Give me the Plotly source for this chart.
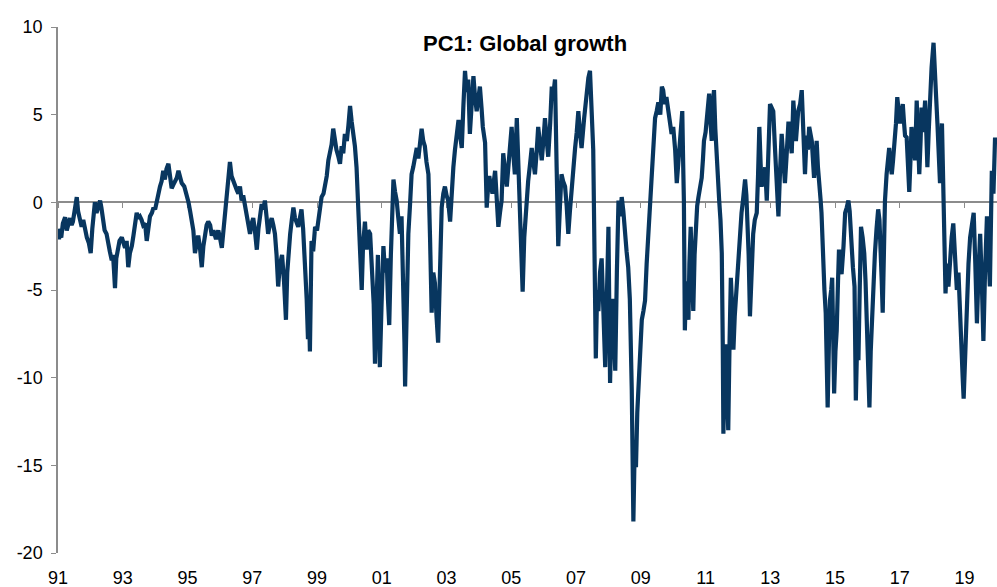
import plotly.graph_objects as go

# Dates as decimal years and PC1 values (rows = calendar years)
years = [
    1991.00, 1991.03, 1991.06, 1991.10, 1991.15, 1991.22, 1991.27, 1991.32, 1991.37, 1991.42, 1991.46, 1991.52, 1991.58, 1991.62, 1991.67, 1991.73, 1991.78, 1991.84, 1991.89, 1991.95,
    1992.01, 1992.06, 1992.10, 1992.14, 1992.19, 1992.24, 1992.30, 1992.34, 1992.39, 1992.44, 1992.50, 1992.55, 1992.60, 1992.66, 1992.70, 1992.73, 1992.76, 1992.80, 1992.85, 1992.90, 1992.97,
    1993.02, 1993.07, 1993.12, 1993.17, 1993.22, 1993.28, 1993.33, 1993.38, 1993.43, 1993.48, 1993.53, 1993.58, 1993.63, 1993.69, 1993.74, 1993.79, 1993.84, 1993.90, 1993.95,
    1994.00, 1994.05, 1994.10, 1994.15, 1994.20, 1994.25, 1994.30, 1994.35, 1994.41, 1994.46, 1994.51, 1994.56, 1994.62, 1994.67, 1994.72, 1994.77, 1994.82, 1994.90, 1994.97,
    1995.03, 1995.08, 1995.13, 1995.18, 1995.23, 1995.28, 1995.33, 1995.38, 1995.44, 1995.49, 1995.54, 1995.59, 1995.64, 1995.70, 1995.75, 1995.80, 1995.88, 1995.95,
    1996.00, 1996.06, 1996.11, 1996.16, 1996.21, 1996.26, 1996.31, 1996.36, 1996.41, 1996.46, 1996.52, 1996.57, 1996.62, 1996.67, 1996.72, 1996.78, 1996.83, 1996.88, 1996.93, 1996.98,
    1997.03, 1997.08, 1997.14, 1997.19, 1997.24, 1997.29, 1997.34, 1997.39, 1997.44, 1997.49, 1997.55, 1997.60, 1997.65, 1997.70, 1997.75, 1997.80, 1997.85, 1997.92, 1997.98,
    1998.04, 1998.08, 1998.12, 1998.17, 1998.22, 1998.27, 1998.32, 1998.37, 1998.42, 1998.47, 1998.52, 1998.57, 1998.63, 1998.68, 1998.72, 1998.75, 1998.78, 1998.80, 1998.83, 1998.88, 1998.94,
    1999.00, 1999.05, 1999.09, 1999.14, 1999.20, 1999.25, 1999.30, 1999.35, 1999.40, 1999.45, 1999.50, 1999.55, 1999.60, 1999.66, 1999.71, 1999.76, 1999.81, 1999.86, 1999.92, 1999.97,
    2000.02, 2000.07, 2000.12, 2000.17, 2000.22, 2000.26, 2000.30, 2000.34, 2000.38, 2000.42, 2000.48, 2000.53, 2000.58, 2000.64, 2000.70, 2000.75, 2000.79, 2000.83, 2000.88, 2000.91, 2000.94, 2000.99,
    2001.05, 2001.10, 2001.15, 2001.19, 2001.23, 2001.28, 2001.32, 2001.36, 2001.41, 2001.46, 2001.51, 2001.56, 2001.61, 2001.66, 2001.70, 2001.72, 2001.76, 2001.79, 2001.82, 2001.87, 2001.92, 2001.97,
    2002.03, 2002.08, 2002.13, 2002.18, 2002.23, 2002.28, 2002.33, 2002.38, 2002.44, 2002.49, 2002.54, 2002.59, 2002.64, 2002.69, 2002.74, 2002.79, 2002.85, 2002.90, 2002.95,
    2003.00, 2003.05, 2003.11, 2003.16, 2003.21, 2003.26, 2003.31, 2003.37, 2003.42, 2003.47, 2003.52, 2003.57, 2003.62, 2003.67, 2003.72, 2003.77, 2003.83, 2003.88, 2003.93, 2003.98,
    2004.03, 2004.08, 2004.12, 2004.19, 2004.24, 2004.28, 2004.32, 2004.37, 2004.42, 2004.46, 2004.50, 2004.55, 2004.60, 2004.65, 2004.70, 2004.75, 2004.80, 2004.86, 2004.93,
    2005.01, 2005.06, 2005.11, 2005.17, 2005.22, 2005.27, 2005.31, 2005.35, 2005.40, 2005.47, 2005.52, 2005.58, 2005.63, 2005.68, 2005.73, 2005.78, 2005.83, 2005.89, 2005.94, 2005.99,
    2006.04, 2006.09, 2006.14, 2006.20, 2006.25, 2006.30, 2006.35, 2006.40, 2006.45, 2006.50, 2006.55, 2006.60, 2006.66, 2006.71, 2006.76, 2006.81, 2006.86, 2006.92, 2006.97,
    2007.02, 2007.07, 2007.12, 2007.17, 2007.25, 2007.33, 2007.38, 2007.43, 2007.48, 2007.53, 2007.57, 2007.61, 2007.65, 2007.69, 2007.74, 2007.79, 2007.84, 2007.90, 2007.95,
    2008.00, 2008.02, 2008.05, 2008.09, 2008.13, 2008.17, 2008.21, 2008.26, 2008.31, 2008.36, 2008.41, 2008.46, 2008.51, 2008.56, 2008.61, 2008.66, 2008.72, 2008.75, 2008.77, 2008.81, 2008.85, 2008.89, 2008.92, 2008.97,
    2009.03, 2009.08, 2009.13, 2009.18, 2009.23, 2009.28, 2009.34, 2009.39, 2009.44, 2009.49, 2009.54, 2009.60, 2009.65, 2009.69, 2009.74, 2009.79, 2009.85, 2009.90, 2009.95,
    2010.00, 2010.06, 2010.11, 2010.16, 2010.21, 2010.24, 2010.28, 2010.31, 2010.33, 2010.36, 2010.40, 2010.44, 2010.47, 2010.50, 2010.54, 2010.58, 2010.62, 2010.66, 2010.70, 2010.74, 2010.78, 2010.83, 2010.88, 2010.92, 2010.95,
    2011.00, 2011.03, 2011.07, 2011.11, 2011.15, 2011.19, 2011.22, 2011.26, 2011.30, 2011.34, 2011.38, 2011.42, 2011.46, 2011.50, 2011.53, 2011.55, 2011.59, 2011.63, 2011.66, 2011.70, 2011.74, 2011.78, 2011.82, 2011.86, 2011.90, 2011.94, 2011.98,
    2012.01, 2012.06, 2012.11, 2012.16, 2012.22, 2012.26, 2012.29, 2012.33, 2012.37, 2012.42, 2012.47, 2012.52, 2012.58, 2012.62, 2012.66, 2012.70, 2012.73, 2012.79, 2012.84, 2012.89, 2012.94, 2012.99,
    2013.04, 2013.09, 2013.14, 2013.18, 2013.22, 2013.25, 2013.30, 2013.35, 2013.40, 2013.45, 2013.50, 2013.56, 2013.61, 2013.66, 2013.71, 2013.75, 2013.79, 2013.86, 2013.92, 2013.97,
    2014.02, 2014.07, 2014.12, 2014.16, 2014.20, 2014.24, 2014.28, 2014.35, 2014.39, 2014.43, 2014.47, 2014.51, 2014.55, 2014.58, 2014.63, 2014.67, 2014.71, 2014.74, 2014.77, 2014.81, 2014.84, 2014.88, 2014.91, 2014.94, 2014.97,
    2015.01, 2015.05, 2015.09, 2015.12, 2015.16, 2015.20, 2015.26, 2015.31, 2015.36, 2015.41, 2015.45, 2015.48, 2015.52, 2015.55, 2015.60, 2015.64, 2015.68, 2015.72, 2015.76, 2015.80, 2015.85, 2015.90, 2015.94, 2015.98,
    2016.02, 2016.06, 2016.10, 2016.13, 2016.18, 2016.23, 2016.28, 2016.33, 2016.37, 2016.41, 2016.44, 2016.47, 2016.51, 2016.54, 2016.59, 2016.63, 2016.67, 2016.71, 2016.75, 2016.79, 2016.83, 2016.88, 2016.92, 2016.96,
    2017.00, 2017.04, 2017.09, 2017.13, 2017.16, 2017.21, 2017.25, 2017.29, 2017.33, 2017.36, 2017.41, 2017.47, 2017.52, 2017.56, 2017.60, 2017.64, 2017.67, 2017.72, 2017.78, 2017.82, 2017.85, 2017.89, 2017.93, 2017.98,
    2018.04, 2018.08, 2018.12, 2018.16, 2018.19, 2018.24, 2018.30, 2018.33, 2018.36, 2018.38, 2018.41, 2018.45, 2018.50, 2018.55, 2018.60, 2018.65, 2018.70, 2018.76, 2018.81, 2018.86, 2018.91, 2018.94, 2018.97,
    2019.02, 2019.07, 2019.12, 2019.17, 2019.22, 2019.28, 2019.33, 2019.38, 2019.43, 2019.48, 2019.53, 2019.58, 2019.63, 2019.69, 2019.73, 2019.78, 2019.81, 2019.84, 2019.89, 2019.94,
]
pc1 = [
    -1.5, -2.1, -1.8, -2.0, -1.2, -0.85, -1.6, -1.1, -0.9, -1.3, -1.1, -0.4, 0.3, -0.5, -0.9, -1.4, -1.0, -1.7, -2.0, -2.3,
    -2.9, -1.5, -0.7, 0.0, -0.6, -0.2, 0.1, -0.3, -0.8, -1.6, -1.8, -2.4, -2.8, -3.3, -3.0, -3.9, -4.9, -3.2, -2.5, -2.2, -2.0,
    -2.3, -2.6, -2.2, -3.7, -2.9, -2.5, -1.9, -1.2, -0.6, -0.9, -0.8, -1.0, -1.3, -1.2, -2.2, -1.5, -0.8, -0.6, -0.3,
    -0.4, 0.1, 0.5, 0.9, 1.2, 1.8, 1.3, 1.9, 2.2, 1.6, 0.8, 1.0, 1.2, 1.4, 1.8, 1.3, 1.1, 0.9, 0.5,
    0.0, -0.5, -1.0, -1.6, -2.9, -2.2, -1.9, -2.5, -3.7, -2.5, -1.8, -1.3, -1.1, -1.3, -1.9, -1.6, -2.1, -1.6,
    -2.0, -2.6, -1.6, -0.5, 0.5, 1.2, 2.3, 1.5, 1.3, 1.0, 0.7, 0.5, 0.9, 0.1, 0.4, -0.3, -0.8, -1.3, -1.8, -1.2,
    -0.9, -1.6, -2.7, -1.5, -0.6, -0.1, -0.4, 0.1, -0.8, -1.8, -1.2, -0.9, -1.3, -1.8, -3.0, -4.8, -3.6, -3.0, -4.5,
    -6.7, -4.0, -2.8, -1.8, -1.0, -0.3, -0.9, -1.1, -1.4, -0.9, -0.4, -1.5, -3.5, -5.5, -7.8, -6.0, -8.5, -5.0, -2.2, -2.8, -1.4,
    -1.6, -0.8, -0.2, 0.3, 0.5, 0.9, 1.5, 2.4, 2.8, 3.3, 4.2, 3.4, 3.0, 2.6, 2.2, 3.2, 2.8, 3.9, 3.5, 4.4,
    5.5, 4.6, 3.9, 3.2, 2.0, 0.5, -0.8, -2.8, -5.0, -2.5, -1.1, -2.7, -1.6, -1.8, -3.5, -5.8, -9.2, -6.0, -3.0, -5.5, -9.4, -6.0,
    -2.5, -4.0, -3.2, -5.5, -7.0, -3.0, -0.5, 1.3, 0.6, 0.1, -0.9, -1.8, -0.8, -4.0, -8.0, -10.5, -6.5, -3.5, -1.8, -0.2, 1.6, 2.0,
    2.7, 3.1, 2.5, 3.6, 4.2, 3.5, 3.2, 2.3, 1.6, -2.0, -6.3, -4.0, -4.6, -6.5, -8.0, -4.5, -0.3, 0.5, 0.9,
    0.4, 0.1, -1.1, 0.8, 2.0, 3.0, 4.0, 4.7, 3.8, 3.1, 5.5, 7.5, 6.3, 7.0, 3.9, 6.0, 7.2, 6.0, 5.2, 5.9,
    6.6, 5.4, 4.3, 3.4, -0.3, 0.8, 1.5, 0.9, 0.5, 1.2, 1.8, 0.2, -1.4, -0.6, 0.1, 2.8, 1.6, 0.9, 2.5,
    4.3, 2.8, 1.6, 4.8, 2.0, -0.8, -2.5, -5.1, -2.0, 0.1, 1.2, 2.2, 3.1, 2.3, 1.6, 2.8, 4.3, 3.3, 2.4, 3.5,
    4.8, 3.6, 2.6, 4.5, 6.6, 6.2, 7.0, 2.0, -2.5, -0.3, 1.6, 1.2, 0.9, -0.2, -1.8, -0.5, 0.9, 2.0, 3.1,
    4.0, 5.2, 4.0, 3.1, 4.8, 6.6, 7.1, 7.5, 5.0, 3.0, -3.0, -8.9, -5.0, -6.2, -4.0, -3.2, -6.0, -9.4, -5.5,
    -1.4, -5.0, -10.3, -7.0, -5.5, -7.5, -9.6, -4.0, 0.1, -0.8, 0.3, -0.5, -2.2, -2.8, -3.7, -5.5, -10.7, -15.0, -18.2, -14.0, -15.1, -12.0, -10.9, -8.5,
    -6.7, -6.2, -5.6, -3.5, -1.8, 0.0, 1.6, 3.0, 4.8, 5.2, 5.7, 5.0, 6.6, 6.4, 5.6, 6.0, 5.2, 4.8, 3.9,
    4.3, 3.0, 1.1, 2.5, 3.5, 4.5, 5.2, 2.0, 0.1, -7.3, -4.5, -5.8, -6.7, -3.5, -1.4, -4.0, -6.2, -3.0, -0.8, -0.2, 0.3, 0.8, 1.4, 2.5, 3.5,
    4.0, 4.6, 5.2, 6.2, 4.6, 3.5, 5.5, 6.4, 4.2, 2.4, 1.2, 0.1, -1.0, -2.9, -8.0, -13.2, -9.5, -8.1, -10.5, -13.0, -8.0, -4.3, -6.0, -8.4, -6.5, -5.2, -4.0,
    -2.9, -1.5, -0.6, 0.2, 1.3, 0.4, -0.8, -3.0, -6.5, -3.5, -1.8, -1.0, -0.6, 1.5, 4.3, 2.2, 0.9, 1.5, 2.0, 0.1, 3.0, 5.6,
    5.4, 5.2, 3.2, 1.6, 0.4, -0.8, 1.8, 3.9, 2.5, 1.1, 2.6, 4.6, 3.8, 2.8, 5.8, 4.5, 3.5, 5.2, 5.6, 6.4,
    4.0, 1.6, 3.8, 3.0, 4.3, 3.8, 3.5, 1.4, 2.6, 3.5, 2.0, 0.5, 0.2, -0.6, -3.7, -5.0, -6.3, -9.0, -11.7, -8.0, -5.6, -5.0, -4.3, -7.5, -10.9,
    -8.5, -7.3, -4.5, -2.7, -3.5, -4.1, -2.5, -0.6, -0.3, 0.1, -0.5, -1.8, -2.8, -3.7, -4.8, -11.3, -8.0, -9.0, -5.0, -1.4, -2.0, -2.9, -4.5, -6.7,
    -9.0, -11.7, -8.5, -7.0, -4.8, -2.9, -1.5, -0.4, -1.0, -2.5, -4.5, -6.3, -2.5, 0.1, 1.6, 2.5, 3.1, 2.2, 1.6, 2.4, 3.1, 4.5, 6.0, 5.0,
    4.5, 5.0, 5.6, 4.5, 3.8, 3.7, 2.2, 0.6, 2.5, 4.3, 3.4, 2.4, 5.8, 3.5, 1.6, 3.5, 5.4, 4.0, 5.8, 3.8, 2.0, 4.0, 6.2, 7.7,
    9.1, 8.0, 6.0, 4.5, 2.8, 1.1, 4.5, 2.5, 0.1, -2.5, -5.2, -3.5, -4.8, -3.0, -2.0, -1.2, -3.0, -5.0, -4.0, -6.9, -8.5, -10.0, -11.2,
    -8.0, -5.0, -3.5, -2.0, -1.5, -0.6, -3.5, -6.9, -4.0, -1.8, -4.5, -7.9, -4.0, -0.8, -2.5, -4.8, -1.5, 1.8, 0.5, 3.7,
]
assert len(years) == len(pc1), (len(years), len(pc1))

tick_years = list(range(1991, 2021, 2))
tick_labels = [f"{y % 100:02d}" for y in tick_years]
y_ticks = [-20, -15, -10, -5, 0, 5, 10]
y_tick_labels = [str(v) for v in y_ticks]  # plain hyphen minus, as in the reference

title_text = "PC1: Global growth"

FONT = "Liberation Sans, Arial, sans-serif"
AXIS_GREY = "#8c8c8c"

fig = go.Figure()
# Empty trace so the zero-line axis (x2) gets drawn
fig.add_trace(go.Scatter(x=[tick_years[0], 2020], y=[None, None], xaxis="x2",
                         showlegend=False, hoverinfo="skip"))
fig.add_trace(go.Scatter(
    x=years, y=pc1, mode="lines",
    line=dict(color="#08365F", width=4.2),
    showlegend=False,
))

fig.update_layout(
    width=997, height=587,
    margin=dict(l=58, r=0, t=27, b=34),
    paper_bgcolor="white", plot_bgcolor="white",
    font=dict(family=FONT, size=18, color="black"),
    xaxis=dict(
        range=[1991, 2020], tickvals=tick_years, ticktext=tick_labels,
        showgrid=False, zeroline=False, showline=False, ticks="",
        ticklabelstandoff=12, tickfont=dict(size=18), automargin=False,
    ),
    xaxis2=dict(
        overlaying="x", anchor="free", position=2/3, side="bottom",
        range=[1991, 2020], tickvals=tick_years, showticklabels=False,
        showgrid=False, zeroline=False, showline=True, linecolor=AXIS_GREY,
        linewidth=1.5, ticks="outside", ticklen=5, tickcolor=AXIS_GREY,
        tickwidth=1.2, layer="below traces", automargin=False,
    ),
    yaxis=dict(
        range=[-20, 10], tickvals=y_ticks, ticktext=y_tick_labels,
        showgrid=False, zeroline=False,
        showline=True, linecolor=AXIS_GREY, linewidth=1.5,
        ticks="outside", ticklen=5, tickcolor=AXIS_GREY, tickwidth=1.2,
        ticklabelstandoff=5, tickfont=dict(size=18), automargin=False,
    ),
    annotations=[dict(
        text=f"<b>{title_text}</b>", x=0.497, y=0.968, xref="paper", yref="paper",
        xanchor="center", yanchor="middle", showarrow=False,
        font=dict(family=FONT, size=22, color="black"),
    )],
)

fig.write_html(
    "out.html",
    config={"displayModeBar": False},
    post_script="document.body.style.margin='0';document.body.style.overflow='hidden';",
)
